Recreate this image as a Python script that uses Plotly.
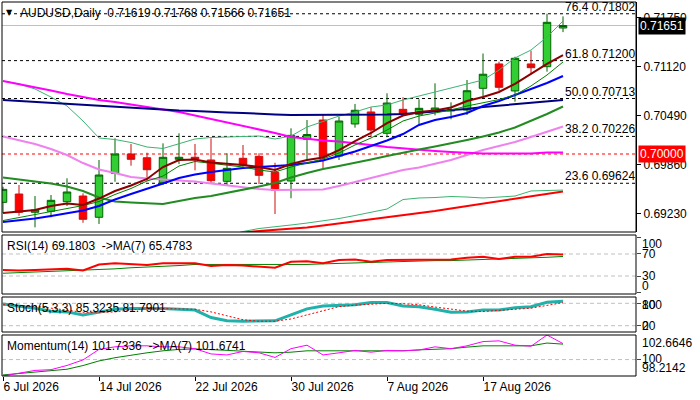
import plotly.graph_objects as go

# ---------------- data ----------------
dates = ["2026-07-06", "2026-07-07", "2026-07-08", "2026-07-09", "2026-07-10",
         "2026-07-13", "2026-07-14", "2026-07-15", "2026-07-16", "2026-07-17",
         "2026-07-20", "2026-07-21", "2026-07-22", "2026-07-23", "2026-07-24",
         "2026-07-27", "2026-07-28", "2026-07-29", "2026-07-30", "2026-07-31",
         "2026-08-03", "2026-08-04", "2026-08-05", "2026-08-06", "2026-08-07",
         "2026-08-10", "2026-08-11", "2026-08-12", "2026-08-13", "2026-08-14",
         "2026-08-17", "2026-08-18", "2026-08-19", "2026-08-20", "2026-08-21",
         "2026-08-24"]
tick_index = [0, 6, 12, 18, 24, 30]
tick_text = ["6 Jul 2026", "14 Jul 2026", "22 Jul 2026", "30 Jul 2026", "7 Aug 2026", "17 Aug 2026"]

open_ = [0.69379, 0.69486, 0.69251, 0.69264, 0.69387, 0.69460, 0.69187, 0.69752, 0.70000, 0.69952,
         0.69631, 0.69932, 0.69958, 0.69923, 0.69649, 0.69945, 0.69970, 0.69765, 0.69653, 0.70189,
         0.70437, 0.69974, 0.70386, 0.70540, 0.70266, 0.70574, 0.70510, 0.70556, 0.70553, 0.70565,
         0.70844, 0.71157, 0.70810, 0.71157, 0.71122, 0.71619]
high = [0.69580, 0.69602, 0.69460, 0.69473, 0.69688, 0.69495, 0.69923, 0.70202, 0.70129, 0.70017,
        0.70137, 0.70266, 0.70129, 0.70202, 0.70009, 0.70116, 0.70009, 0.69888, 0.70330, 0.70437,
        0.70501, 0.70479, 0.70643, 0.70600, 0.70780, 0.70729, 0.70703, 0.70908, 0.70664, 0.70951,
        0.71291, 0.71186, 0.71250, 0.71327, 0.71802, 0.71768]
low = [0.69242, 0.69207, 0.69058, 0.69187, 0.69332, 0.69117, 0.69101, 0.69644, 0.69850, 0.69653,
       0.69602, 0.69872, 0.69790, 0.69623, 0.69589, 0.69837, 0.69615, 0.69229, 0.69431, 0.69923,
       0.69816, 0.69923, 0.70338, 0.70215, 0.70215, 0.70501, 0.70386, 0.70497, 0.70446, 0.70501,
       0.70736, 0.70813, 0.70672, 0.71028, 0.71058, 0.71566]
close = [0.69546, 0.69251, 0.69280, 0.69405, 0.69512, 0.69161, 0.69730, 0.70000, 0.69932, 0.69798,
         0.69958, 0.69958, 0.69936, 0.69657, 0.69816, 0.69859, 0.69726, 0.69534, 0.70240, 0.70250,
         0.69965, 0.70424, 0.70562, 0.70308, 0.70655, 0.70514, 0.70587, 0.70591, 0.70565, 0.70813,
         0.71025, 0.70857, 0.71230, 0.71109, 0.71692, 0.71651]

ma_navy = [0.70694, 0.70681, 0.70668, 0.70655, 0.70643, 0.70630, 0.70617, 0.70604, 0.70591, 0.70578,
           0.70565, 0.70559, 0.70553, 0.70540, 0.70533, 0.70527, 0.70514, 0.70508, 0.70501, 0.70501,
           0.70501, 0.70501, 0.70501, 0.70501, 0.70508, 0.70514, 0.70527, 0.70546, 0.70565, 0.70578,
           0.70604, 0.70623, 0.70643, 0.70662, 0.70681, 0.70694]
ma_magenta = [0.70938, 0.70900, 0.70861, 0.70816, 0.70771, 0.70732, 0.70694, 0.70668, 0.70636, 0.70604,
              0.70578, 0.70540, 0.70495, 0.70450, 0.70411, 0.70360, 0.70315, 0.70270, 0.70218, 0.70193,
              0.70173, 0.70161, 0.70141, 0.70116, 0.70090, 0.70071, 0.70058, 0.70039, 0.70026, 0.70013,
              0.70006, 0.70006, 0.70006, 0.70006, 0.70019, 0.70019]
ma_violet = [0.70225, 0.70180, 0.70129, 0.70064, 0.69987, 0.69884, 0.69801, 0.69756, 0.69704, 0.69685,
             0.69672, 0.69659, 0.69647, 0.69621, 0.69595, 0.69570, 0.69550, 0.69537, 0.69537, 0.69537,
             0.69544, 0.69589, 0.69640, 0.69692, 0.69743, 0.69794, 0.69827, 0.69872, 0.69923, 0.69987,
             0.70051, 0.70103, 0.70154, 0.70218, 0.70289, 0.70353]
band_mid = [0.69698, 0.69672, 0.69647, 0.69621, 0.69582, 0.69525, 0.69441, 0.69390, 0.69377, 0.69364,
            0.69358, 0.69396, 0.69435, 0.69460, 0.69499, 0.69537, 0.69582, 0.69627, 0.69698, 0.69756,
            0.69807, 0.69846, 0.69884, 0.69929, 0.69974, 0.70019, 0.70058, 0.70096, 0.70135, 0.70180,
            0.70225, 0.70276, 0.70341, 0.70424, 0.70514, 0.70610]
band_up = [0.70938, 0.70900, 0.70835, 0.70732, 0.70617, 0.70424, 0.70206, 0.70186, 0.70148, 0.70090,
           0.70071, 0.70129, 0.70193, 0.70212, 0.70218, 0.70225, 0.70231, 0.70193, 0.70231, 0.70347,
           0.70418, 0.70488, 0.70540, 0.70604, 0.70630, 0.70694, 0.70745, 0.70797, 0.70848, 0.70900,
           0.70951, 0.71079, 0.71234, 0.71336, 0.71503, 0.71709]
band_low = [None, None, None, None, None, None, None, None, None, None,
            None, None, None, None, 0.68946, 0.69004, 0.69043, 0.69062, 0.69088, 0.69113,
            0.69139, 0.69171, 0.69210, 0.69248, 0.69293, 0.69415, 0.69435, 0.69441, 0.69454, 0.69447,
            0.69435, 0.69447, 0.69460, 0.69525, 0.69531, 0.69537]
ma_maroon = [0.69242, 0.69261, 0.69280, 0.69332, 0.69364, 0.69345, 0.69428, 0.69525, 0.69595, 0.69679,
             0.69833, 0.69923, 0.69929, 0.69891, 0.69878, 0.69859, 0.69833, 0.69794, 0.69872, 0.69923,
             0.69955, 0.70051, 0.70167, 0.70270, 0.70398, 0.70495, 0.70540, 0.70559, 0.70598, 0.70681,
             0.70732, 0.70797, 0.70900, 0.71028, 0.71157, 0.71272]
ma_thin_green = [0.69145, 0.69184, 0.69216, 0.69261, 0.69300, 0.69338, 0.69390, 0.69480, 0.69557, 0.69653,
                 0.69717, 0.69846, 0.69904, 0.69878, 0.69859, 0.69833, 0.69794, 0.69769, 0.69833, 0.69884,
                 0.69936, 0.70013, 0.70116, 0.70206, 0.70308, 0.70424, 0.70488, 0.70527, 0.70565, 0.70617,
                 0.70655, 0.70700, 0.70758, 0.70874, 0.71015, 0.71182]
ma_blue = [0.69126, 0.69145, 0.69171, 0.69203, 0.69235, 0.69274, 0.69332, 0.69415, 0.69486, 0.69550,
           0.69621, 0.69692, 0.69737, 0.69769, 0.69794, 0.69820, 0.69833, 0.69846, 0.69859, 0.69884,
           0.69916, 0.69974, 0.70032, 0.70103, 0.70173, 0.70257, 0.70373, 0.70437, 0.70475, 0.70527,
           0.70617, 0.70681, 0.70758, 0.70835, 0.70912, 0.71002]
ma_red = [None, None, None, None, None, None, None, None, None, None,
          None, None, None, None, 0.68959, 0.68991, 0.69011, 0.69023, 0.69036, 0.69055,
          0.69081, 0.69107, 0.69133, 0.69158, 0.69184, 0.69210, 0.69235, 0.69268, 0.69300, 0.69332,
          0.69364, 0.69396, 0.69428, 0.69460, 0.69486, 0.69518]

fib_pct = ["76.4", "61.8", "50.0", "38.2", "23.6"]
fib_level = [0.71802, 0.71200, 0.70713, 0.70226, 0.69624]
key_level = 0.70000
price_ticks = [0.71750, 0.71120, 0.70490, 0.69860, 0.69230]

rsi = [41, 40, 41, 42, 43, 40, 51, 53, 51, 50, 53, 53.5, 53, 48, 50, 49, 47, 45, 56, 57,
       53, 59, 60, 56, 59, 59, 60, 60, 60, 63, 65, 61, 65, 65, 70, 69.1803]
rsi_ma = [35, 36, 37, 38, 39, 40, 41, 43, 45, 46, 48, 49, 51, 51, 51, 51, 51, 50, 51, 51,
          52, 53, 53, 54, 55, 56, 57, 58, 58, 59, 60, 61, 61, 62, 64, 65.4783]
stoch_k = [78, 73, 67, 59, 57, 49, 57, 64, 66, 67, 66, 64, 62, 42, 33, 32, 32, 33, 49, 65,
           73, 75, 76, 82, 82, 73, 71, 64, 56, 57, 62, 62, 68, 71, 83, 85.3235]
stoch_d = [76, 75, 72, 67, 62, 56, 55, 57, 62, 66, 66, 65, 64, 57, 46, 36, 32, 32, 38, 49,
           62, 71, 75, 78, 80, 79, 76, 70, 64, 59, 58, 60, 64, 67, 74, 81.7901]
momentum = [98.2142, 98.52, 98.82, 98.90, 99.36, 99.96, 101.10, 101.38, 101.49, 101.49,
            101.38, 101.38, 101.18, 100.61, 100.50, 100.88, 100.73, 100.23, 101.18, 101.56,
            100.50, 100.73, 100.99, 100.80, 100.99, 100.95, 101.03, 101.38, 101.18, 101.49,
            101.95, 102.03, 101.56, 101.45, 102.6646, 101.7336]
momentum_ma = [98.33, 98.50, 98.65, 98.80, 98.95, 99.35, 99.85, 100.20, 100.50, 100.73,
               100.95, 101.10, 101.15, 101.10, 101.00, 100.90, 100.80, 100.73, 100.80, 100.95,
               100.95, 100.95, 100.88, 100.88, 100.90, 100.95, 101.05, 101.10, 101.18, 101.35,
               101.49, 101.49, 101.49, 101.49, 101.79, 101.6741]

# ---------------- layout helpers ----------------
W, H = 700, 400
FONT = "Liberation Sans"
FS = 12


def fx(px):
    return px / W


def fy(py):
    return 1 - py / H


X_LEFT, X_RIGHT = 2, 636
PANELS = {  # top, bottom in px
    "main": (2, 232),
    "rsi": (235, 294),
    "stoch": (297, 332),
    "mom": (335, 376),
}
idx = list(range(len(dates)))
x_range = [-0.0625, 39.5625]

fig = go.Figure()


def line(y, color, width, xa="x", ya="y", dash=None):
    fig.add_trace(go.Scatter(x=idx, y=y, mode="lines", xaxis=xa, yaxis=ya,
                             line=dict(color=color, width=width, dash=dash),
                             hoverinfo="skip", showlegend=False, connectgaps=False))


# main panel indicator lines
line(ma_red, "#FF0000", 2)
line(band_low, "#3CB371", 1)
line(band_up, "#3CB371", 1)
line(ma_violet, "#EE82EE", 2)
line(ma_magenta, "#FF00FF", 2)
line(ma_navy, "#000080", 2)
line(band_mid, "#228B22", 2)
line(ma_blue, "#0000FF", 2)
line(ma_thin_green, "#008000", 1)
line(ma_maroon, "#8B0000", 2)

fig.add_trace(go.Candlestick(
    x=idx, open=open_, high=high, low=low, close=close,
    xaxis="x", yaxis="y",
    increasing=dict(line=dict(color="#006400", width=1), fillcolor="#32CD32"),
    decreasing=dict(line=dict(color="#CC1010", width=1), fillcolor="#FF0000"),
    whiskerwidth=0, hoverinfo="skip", showlegend=False))

# RSI
line(rsi_ma, "#008000", 1, "x2", "y2")
line(rsi, "#FF0000", 2, "x2", "y2")
# Stochastic
line(stoch_k, "#20B2AA", 3, "x3", "y3")
line(stoch_d, "#FF0000", 1, "x3", "y3", dash="2px,2px")
# Momentum
line(momentum_ma, "#008000", 1, "x4", "y4")
line(momentum, "#FF00FF", 1, "x4", "y4")

xdom = [fx(X_LEFT), fx(X_RIGHT)]


def ydom(name):
    t, b = PANELS[name]
    return [fy(b), fy(t)]


axis_common = dict(range=x_range, domain=xdom, showgrid=False, zeroline=False,
                   showticklabels=False, fixedrange=True, showline=False)

fig.update_layout(
    width=W, height=H, margin=dict(l=0, r=0, t=0, b=0),
    paper_bgcolor="white", plot_bgcolor="white",
    showlegend=False, boxgap=0.33, hovermode=False,
    font=dict(family=FONT, size=FS, color="black"),
    xaxis=dict(**axis_common, anchor="y", rangeslider=dict(visible=False)),
    xaxis2=dict(**axis_common, anchor="y2"),
    xaxis3=dict(**axis_common, anchor="y3"),
    xaxis4=dict(range=x_range, domain=xdom, showgrid=False, zeroline=False,
                anchor="y4", tickmode="array", tickvals=tick_index, ticktext=tick_text,
                ticks="outside", ticklen=4, tickcolor="black",
                ticklabelposition="outside right", showticklabels=True,
                tickfont=dict(family=FONT, size=FS, color="black"), showline=False),
    yaxis=dict(domain=ydom("main"), range=[0.68998, 0.71953], anchor="x", side="right",
               tickmode="array", tickvals=price_ticks, tickformat=".5f",
               ticks="outside", ticklen=4, tickcolor="black", showgrid=False, zeroline=False,
               showline=True, linecolor="black", linewidth=1,
               tickfont=dict(family=FONT, size=FS, color="black")),
    yaxis2=dict(domain=ydom("rsi"), range=[-2.7, 104.5], anchor="x2", side="right",
                tickmode="array", tickvals=[100, 70, 30, 0], ticks="outside", ticklen=4,
                showticklabels=False, showgrid=False, zeroline=False),
    yaxis3=dict(domain=ydom("stoch"), range=[3.1, 96.9], anchor="x3", side="right",
                tickmode="array", tickvals=[80, 20], ticks="outside", ticklen=4,
                showticklabels=False, showgrid=False, zeroline=False),
    yaxis4=dict(domain=ydom("mom"), range=[98.2142, 102.6646], anchor="x4", side="right",
                tickmode="array", tickvals=[100], ticks="outside", ticklen=4,
                showticklabels=False, showgrid=False, zeroline=False),
)

shapes = []
# panel frames
for name, (t, b) in PANELS.items():
    shapes.append(dict(type="rect", xref="paper", yref="paper",
                       x0=fx(X_LEFT), x1=fx(X_RIGHT), y0=fy(b), y1=fy(t),
                       line=dict(color="black", width=1), fillcolor="rgba(0,0,0,0)", layer="above"))
# fibonacci levels
for lv in fib_level:
    shapes.append(dict(type="line", xref="paper", yref="y", x0=fx(X_LEFT), x1=fx(X_RIGHT),
                       y0=lv, y1=lv, line=dict(color="black", width=1, dash="3px,3px"), layer="below"))
# key level 0.70000
shapes.append(dict(type="line", xref="paper", yref="y", x0=fx(X_LEFT), x1=fx(X_RIGHT),
                   y0=key_level, y1=key_level, line=dict(color="#FF0000", width=1, dash="3px,3px"),
                   layer="below"))
# current price line
shapes.append(dict(type="line", xref="paper", yref="y", x0=fx(X_LEFT), x1=fx(X_RIGHT),
                   y0=close[-1], y1=close[-1], line=dict(color="#C0C0C0", width=1), layer="below"))
# indicator levels
for ya, lv in [("y2", 70), ("y2", 30), ("y3", 80), ("y3", 20), ("y4", 100)]:
    shapes.append(dict(type="line", xref="paper", yref=ya, x0=fx(X_LEFT), x1=fx(X_RIGHT),
                       y0=lv, y1=lv, line=dict(color="#C0C0C0", width=1, dash="4px,3px"),
                       layer="below"))
fig.update_layout(shapes=shapes)

ann = []


def text(x, y, s, xref="paper", yref="paper", xanchor="left", yanchor="middle", **kw):
    d = dict(x=x, y=y, text=s, xref=xref, yref=yref, xanchor=xanchor, yanchor=yanchor,
             showarrow=False, font=dict(family=FONT, size=FS, color="black"), borderpad=0)
    d.update(kw)
    ann.append(d)


# header
text(fx(5), fy(12), "▼", font=dict(family="DejaVu Sans", size=8, color="black"))
text(fx(19), fy(13),
     "AUDUSD,Daily&nbsp;&nbsp;%.5f %.5f %.5f %.5f" % (open_[-1], high[-1], low[-1], close[-1]))
# fib labels
for p, lv in zip(fib_pct, fib_level):
    text(fx(636), lv, "%s %.5f" % (p, lv), yref="y", xanchor="right", yshift=7)
# current price and key level boxes
text(fx(638), close[-1], "%.5f" % close[-1], yref="y", bgcolor="black",
     font=dict(family=FONT, size=FS, color="white"), borderpad=1)
text(fx(638), key_level, "%.5f" % key_level, yref="y", bgcolor="#FF0000",
     font=dict(family=FONT, size=FS, color="white"), borderpad=1)
# indicator titles
text(fx(6), fy(246), "RSI(14) %.4f&nbsp;&nbsp;->MA(7) %.4f" % (rsi[-1], rsi_ma[-1]))
text(fx(6), fy(308), "Stoch(5,3,3) %.4f %.4f" % (stoch_k[-1], stoch_d[-1]))
text(fx(6), fy(346), "Momentum(14) %.4f&nbsp;&nbsp;->MA(7) %.4f" % (momentum[-1], momentum_ma[-1]))
# indicator scale labels
for s, py in [("100", 244), ("70", 254), ("30", 276), ("0", 286),
              ("100", 305), ("80", 305), ("20", 326), ("0", 326),
              ("102.6646", 343), ("100", 359), ("98.2142", 368)]:
    text(fx(641), fy(py), s)

fig.update_layout(annotations=ann)

fig.write_html("out.html", config={"displayModeBar": False, "staticPlot": True},
               post_script="document.body.style.margin='0';document.body.style.overflow='hidden';")
